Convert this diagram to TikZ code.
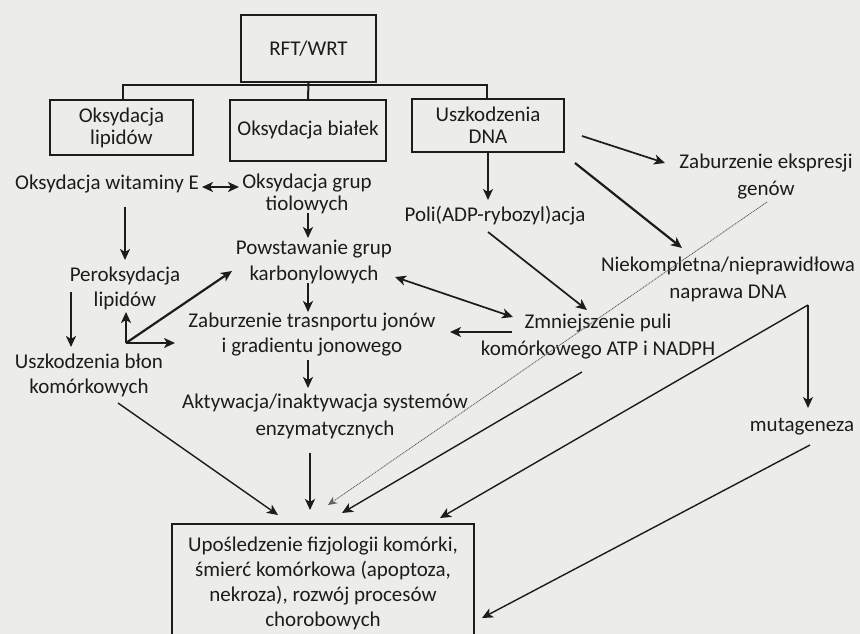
\documentclass[tikz,border=0pt]{standalone}
\usepackage{fontspec}
\setmainfont{Carlito}
\usetikzlibrary{arrows.meta,calc}
\definecolor{bg}{RGB}{236,236,233}
\definecolor{ink}{RGB}{28,28,28}
\begin{document}
\begin{tikzpicture}[x=1pt,y=-1pt,
  txt/.style={align=center, inner sep=0pt, text=ink, font=\fontsize{21}{#1}\selectfont},
  txt/.default=25,
  boxn/.style={draw=ink, line width=2pt, inner sep=0pt, align=center, text=ink, font=\fontsize{21}{22}\selectfont},
  tip/.style={-{Stealth[length=11pt,width=10pt,inset=3pt]}},
  dtip/.style={{Stealth[length=11pt,width=10pt,inset=3pt]}-{Stealth[length=11pt,width=10pt,inset=3pt]}},
  thk/.style={draw=ink, line width=2.2pt},
  mid/.style={draw=ink, line width=1.7pt},
  thn/.style={draw=ink, line width=1.4pt},
  dots/.style={draw=ink!70, line width=0.9pt, dash pattern=on 1pt off 0.8pt},
]
\fill[bg] (0,0) rectangle (860,634);
\useasboundingbox (0,0) rectangle (860,634);

% boxes
\node[boxn, minimum width=135pt, minimum height=67pt] (rft) at (308.5,48.5) {RFT/WRT};
\node[boxn, minimum width=143pt, minimum height=55pt] (lip) at (121.5,127.5) {Oksydacja\\lipidów};
\node[boxn, minimum width=156pt, minimum height=61pt] (bia) at (308,130.5) {Oksydacja białek};
\node[boxn, minimum width=152pt, minimum height=53pt] (dna) at (488,125.5) {Uszkodzenia\\DNA};

% text nodes
\node[txt] (witE) at (107,184) {Oksydacja witaminy E};
\node[txt=22] (tiol) at (307,194) {Oksydacja grup\\tiolowych};
\node[txt] (perox) at (125,288) {Peroksydacja\\lipidów};
\node[txt] (blon) at (89,375) {Uszkodzenia błon\\komórkowych};
\node[txt=26] (powst) at (314,262) {Powstawanie grup\\karbonylowych};
\node[txt] (zab) at (312,335) {Zaburzenie trasnportu jonów\\i gradientu jonowego};
\node[txt=27] (akt) at (325,416) {Aktywacja/inaktywacja systemów\\enzymatycznych};
\node[txt] (poli) at (495,216) {Poli(ADP-rybozyl)acja};
\node[txt=27] (zeksp) at (766,177) {Zaburzenie ekspresji\\genów};
\node[txt=27] (niek) at (728,279) {Niekompletna/nieprawidłowa\\naprawa DNA};
\node[txt=27] (zmn) at (598,337) {Zmniejszenie puli\\komórkowego ATP i NADPH};
\node[txt] (mut) at (802,427) {mutageneza};
\node[txt] (outc) at (323,583) {Upośledzenie fizjologii komórki,\\śmierć komórkowa (apoptoza,\\nekroza), rozwój procesów\\chorobowych};

% outcome box (bottom edge lies below the picture)
\draw[draw=ink, line width=2pt] ([shift={(-151,51)}]outc.center) -- ([shift={(-151,-59)}]outc.center) -- ([shift={(151,-59)}]outc.center) -- ([shift={(151,51)}]outc.center);

% tree from RFT/WRT
\draw[draw=ink, line width=2pt] (rft.south) -- (bia.north);
\draw[draw=ink, line width=2pt] ([xshift=1.5pt]lip.north) -- ([shift={(1.5,-14)}]lip.north) -| ([xshift=-1pt]dna.north);

% left column
\draw[thk,dtip] ([shift={(95,3)}]witE.center) -- ([shift={(-68,-7)}]tiol.center);
\draw[thk,tip] ([shift={(18,23)}]witE.center) -- ([shift={(0,-28)}]perox.center);
\draw[thk,tip] ([shift={(-54,4)}]perox.center) -- ([shift={(-18,-28)}]blon.center);
\coordinate (hub) at ([shift={(1,55)}]perox.center);
\draw[thk,tip] (hub) -- ([shift={(1,24)}]perox.center);
\draw[thk,tip] (hub) -- ([shift={(-137,8)}]zab.center);
\draw[thk,tip] (hub) -- ([shift={(-82,9)}]powst.center);
\draw[thn,tip] ([shift={(29,28)}]blon.center) -- ([shift={(-45,-68)}]outc.center);

% central column
\draw[thk,tip] ([shift={(1,19)}]tiol.center) -- ([shift={(-6,-24)}]powst.center);
\draw[thk,tip] ([shift={(-6,21)}]powst.center) -- ([shift={(-4,-23)}]zab.center);
\draw[thk,tip] ([shift={(-4,25)}]zab.center) -- ([shift={(-17,-28)}]akt.center);
\draw[thk,tip] ([shift={(-15,37)}]akt.center) -- ([shift={(-13,-73)}]outc.center);

% DNA branch
\draw[mid,tip] ([shift={(0,26.5)}]dna.center) -- ([shift={(-7,-16)}]poli.center);
\draw[mid,tip] ([shift={(94,10.5)}]dna.center) -- ([shift={(-101,-14)}]zeksp.center);
\draw[thk,tip] ([shift={(87,37.5)}]dna.center) -- ([shift={(-46,-31)}]niek.center);
\draw[dots,-{Stealth[length=9pt,width=8pt,inset=3pt]}] ([shift={(1,25)}]zeksp.center) -- ([shift={(5,-78)}]outc.center);
\draw[mid,tip] ([shift={(-7,16)}]poli.center) -- ([shift={(-11,-27)}]zmn.center);
\draw[mid,dtip] ([shift={(81,15)}]powst.center) -- ([shift={(-85,-20)}]zmn.center);
\draw[thk,tip] ([shift={(-86,-5)}]zmn.center) -- ([shift={(138,-3)}]zab.center);
\draw[thn,tip] ([shift={(-16,35)}]zmn.center) -- ([shift={(19,-70)}]outc.center);
\coordinate (corner) at ([shift={(80,26)}]niek.center);
\draw[thn,tip] (corner) -- ([shift={(117,-65)}]outc.center);
\draw[thn,tip] (corner) -- ([shift={(6,-19)}]mut.center);
\draw[thn,tip] ([shift={(8,18)}]mut.center) -- ([shift={(159,35)}]outc.center);
\end{tikzpicture}
\end{document}
